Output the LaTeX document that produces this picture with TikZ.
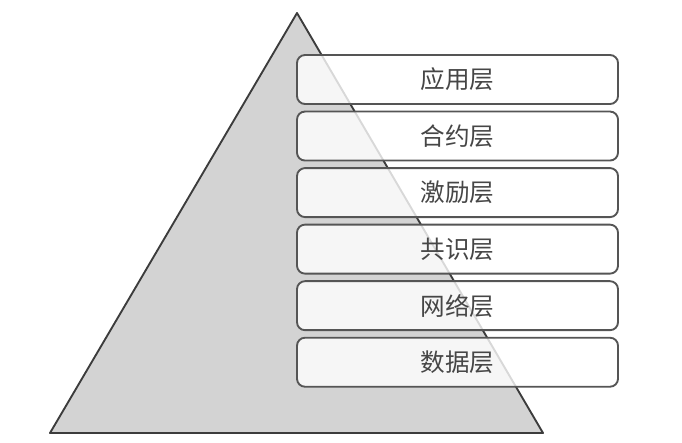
\documentclass[tikz,border=0pt]{standalone}
\usepackage{fontspec}
\newfontfamily\cjk{Noto Sans CJK SC}
\usetikzlibrary{positioning}
\definecolor{pyrgray}{RGB}{211,211,211}
\definecolor{edgegray}{RGB}{60,60,60}
\definecolor{boxedge}{RGB}{85,85,85}
\definecolor{txtgray}{RGB}{70,70,70}
\tikzset{
 layerbox/.style={draw=boxedge,line width=1.6pt,rounded corners=0.24cm,fill=white,fill opacity=0.8,text opacity=1,
  minimum width=9.63cm,minimum height=1.47cm,inner sep=0pt,font=\cjk\fontsize{21}{21}\selectfont,text=txtgray}
}
\begin{document}
\begin{tikzpicture}[x=0.03cm,y=-0.03cm]
 \useasboundingbox (0,0) rectangle (682,442);
 \draw[line width=1.6pt,draw=edgegray,fill=pyrgray,line join=round](297,13)--(543,433)--(50,433)--cycle;
 \node[layerbox] (app) at (457.5,79.5) {应用层};
 \node[layerbox,below=0.17cm of app] (contract) {合约层};
 \node[layerbox,below=0.17cm of contract] (incentive) {激励层};
 \node[layerbox,below=0.17cm of incentive] (consensus) {共识层};
 \node[layerbox,below=0.17cm of consensus] (network) {网络层};
 \node[layerbox,below=0.17cm of network] (data) {数据层};
\end{tikzpicture}
\end{document}
